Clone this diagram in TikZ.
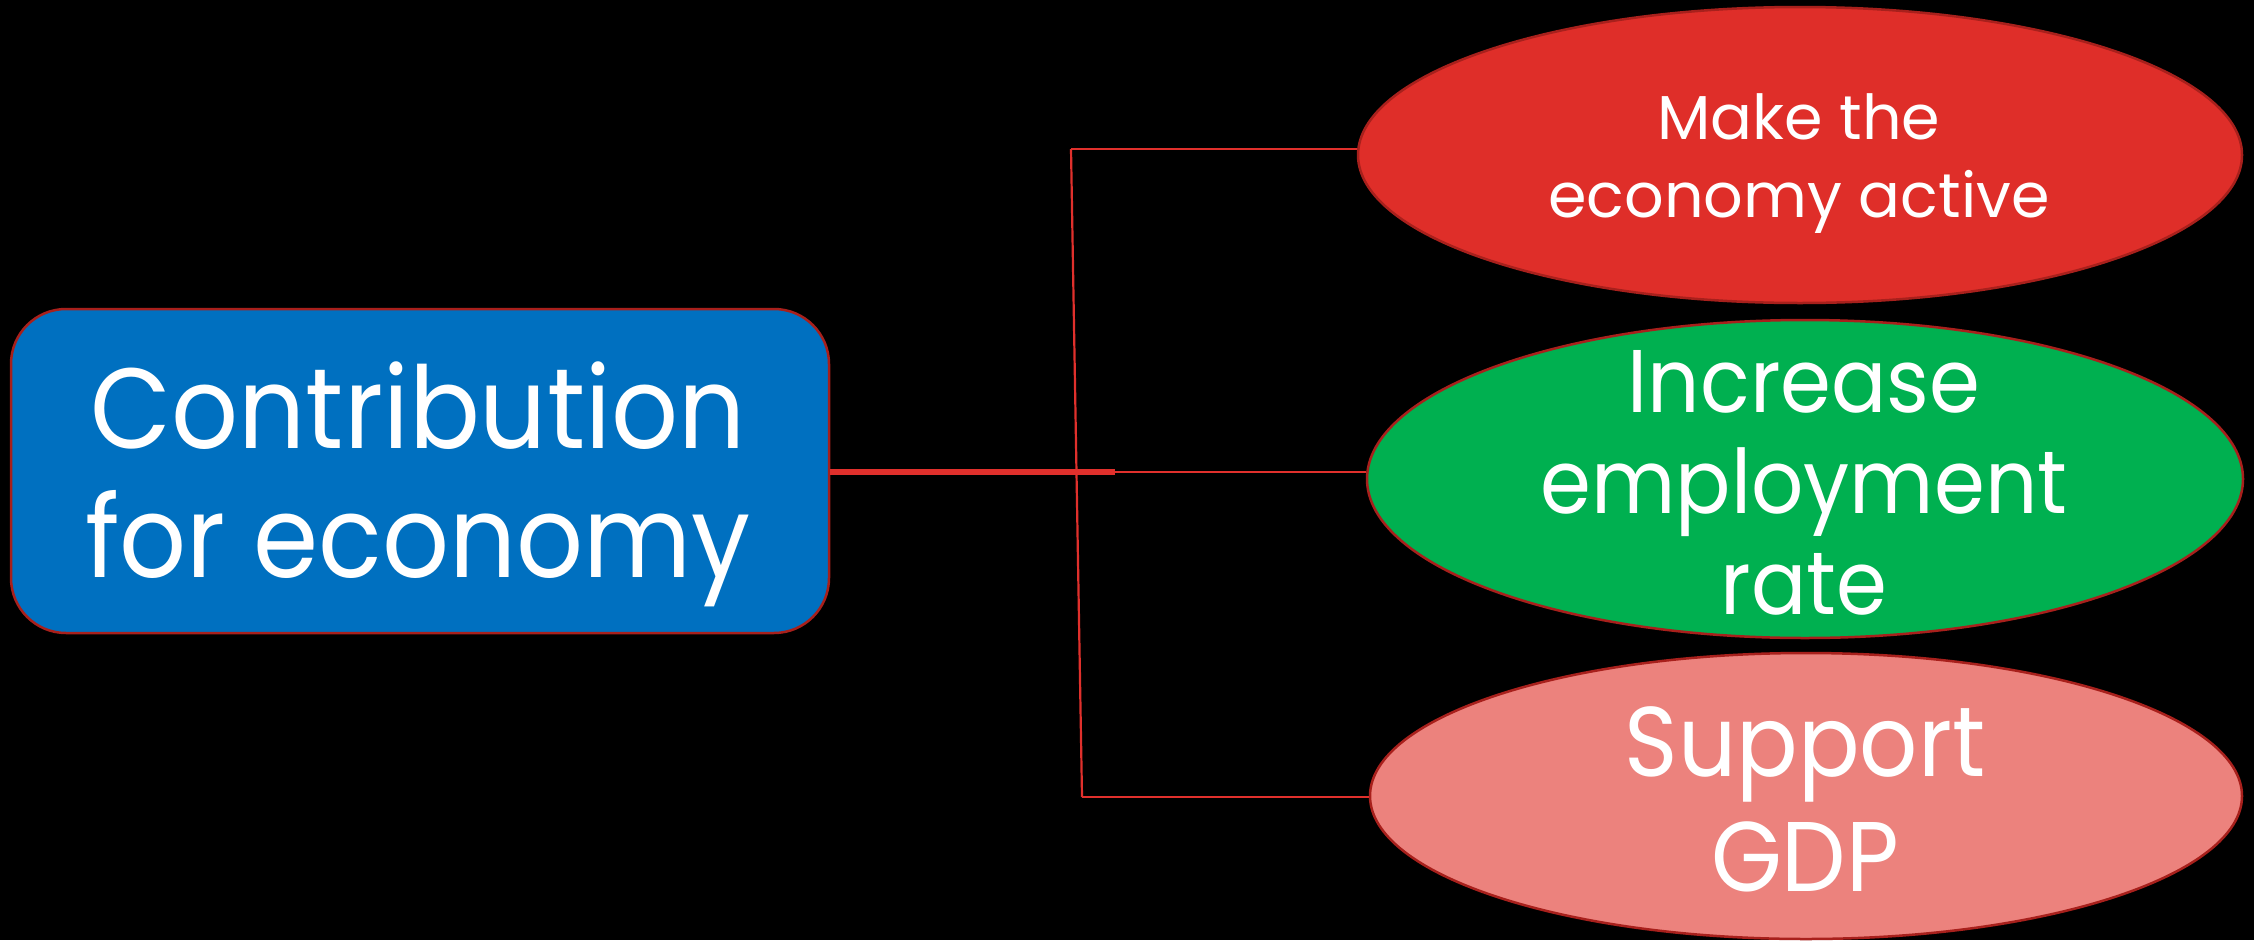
\documentclass[tikz,border=0pt]{standalone}
\usepackage{fontspec}
\setmainfont{Poppins}
\newfontfamily\narrowfont[FakeStretch=0.92]{Poppins}
\usetikzlibrary{shapes.geometric}
\definecolor{bluebox}{HTML}{0070C0}
\definecolor{redell}{HTML}{DF2E29}
\definecolor{greenell}{HTML}{00B050}
\definecolor{pinkell}{HTML}{EC827D}
\definecolor{edgecol}{HTML}{A8201C}
\definecolor{wire}{HTML}{E0302C}
\tikzset{
  mainbox/.style={rectangle, rounded corners=55pt, fill=bluebox, draw=edgecol, line width=2.5pt, inner sep=0pt, minimum width=818pt, minimum height=324pt},
  ell/.style={ellipse, draw=edgecol, line width=2.5pt, inner sep=0pt},
  txt/.style={text=white, align=center, inner sep=0pt},
  wirethin/.style={draw=wire, line width=2.2pt},
  wirethick/.style={draw=wire, line width=6pt}
}
\begin{document}
\begin{tikzpicture}[x=1pt,y=-1pt]
\fill[black] (0,0) rectangle (2254,940);
\useasboundingbox (0,0) rectangle (2254,940);
\node[mainbox] (main) at (420,471) {};
\node[ell, fill=redell, minimum width=884pt, minimum height=296pt] (e1) at (1800,155) {};
\node[ell, fill=greenell, minimum width=876pt, minimum height=318pt] (e2) at (1805,479) {};
\node[ell, fill=pinkell, minimum width=872pt, minimum height=286pt] (e3) at (1806,796) {};
\node[txt, font=\narrowfont\fontsize{114}{129}\selectfont] (maint) at (418,487) {\strut Contribution\\\strut for economy};
\node[txt, font=\fontsize{62}{78}\selectfont] (e1t) at (1799,163) {\strut Make the\\\strut economy active};
\node[txt, font=\narrowfont\fontsize{89}{101}\selectfont] (e2t) at (1804,493) {\strut Increase\\\strut employment\\\strut rate};
\node[txt, font=\narrowfont\fontsize{99}{115}\selectfont] (e3t) at (1805,811) {\strut Support\\\strut GDP};
\coordinate (j1) at (1071,149);
\coordinate (j2) at (1082,797);
\coordinate (j) at (1115,472);
\draw[wirethin] (j1) -- (j1 -| e1.west);
\draw[wirethin] (j) -- (j -| e2.west);
\draw[wirethin] (j2) -- (j2 -| e3.west);
\draw[wirethin] (j1) -- (j2);
\draw[wirethick] (main.east |- j) -- (j);
\end{tikzpicture}
\end{document}
